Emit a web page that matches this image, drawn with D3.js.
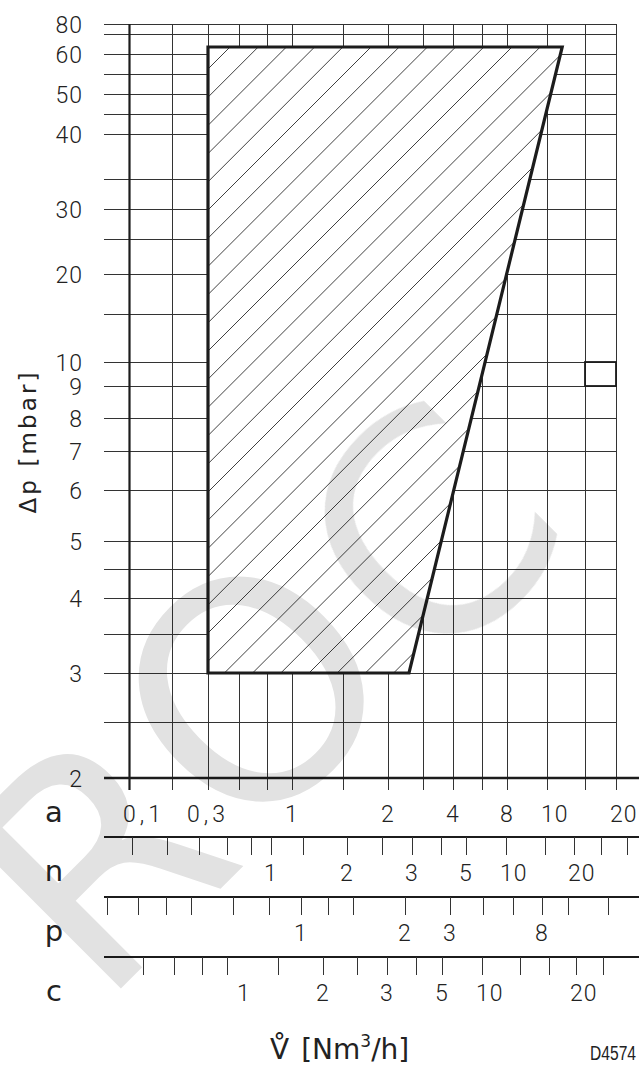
<!DOCTYPE html>
<html>
<head>
<meta charset="utf-8">
<script src="https://cdn.jsdelivr.net/npm/d3@7"></script>
<style>
  body { margin: 0; background: #fff; }
  svg { display: block; }
</style>
</head>
<body>
<div id="chart"></div>
<script>
// pressure drop grid lines [mbar] and the ones that carry a label
const dpGrid = [2, 2.5, 3, 3.5, 4, 4.5, 5, 6, 7, 8, 9, 10, 15, 20, 25, 30, 35, 40, 45, 50, 55, 60, 70, 80];
const dpLabels = [2, 3, 4, 5, 6, 7, 8, 9, 10, 20, 30, 40, 50, 60, 80];

// flow scale a (air) = vertical grid lines
const aGrid = [0.1, 0.2, 0.3, 0.5, 0.7, 1, 1.5, 2, 3, 4, 6, 8, 10, 15, 20];
const aLabels = [0.1, 0.3, 1, 2, 4, 8, 10, 20];

// flow scale n (natural gas)
const nTicks = [0.2, 0.3, 0.4, 0.5, 0.7, 1, 1.5, 2, 2.5, 3, 4, 5, 10, 15, 20, 25, 30];
const nLabels = [1, 2, 3, 5, 10, 20];

// flow scale p (propane)
const pTicks = [0.15, 0.2, 0.3, 0.4, 0.5, 0.7, 1, 1.2, 1.5, 2, 3, 4, 6, 8, 10, 15];
const pLabels = [1, 2, 3, 8];

// flow scale c (city gas)
const cTicks = [0.4, 0.5, 0.6, 0.8, 1.4, 2, 2.5, 3, 4, 5, 10, 12, 15, 20, 25];
const cLabels = [1, 2, 3, 5, 10, 20];

// working range (hatched area), air flow vs pressure drop
const rangeFlow = [0.3, 0.3, 12, 2.6];
const rangeDp = [3, 63.5, 63.5, 3];

// small marker box on the right
const boxFlow = [15, 20];
const boxDp = [9, 10];

// ---- layout: where the (irregular, hand drawn) scales sit on the sheet ----
const W = 639, H = 1066;
const dpPx = [778, 722, 673, 634, 598, 569, 541, 490, 451, 418, 386, 362, 314, 274, 239, 209, 179, 134, 114, 94, 74, 54, 34, 24];
const aPx = [129, 172, 208, 239, 267, 292, 343, 388, 423, 453, 482, 507, 547, 585, 616];
const nPx = [132, 167, 199, 227, 251, 271, 303, 347, 382, 412, 441, 466, 506, 545, 574, 601, 627];
const pPx = [107, 138, 166, 191, 233, 269, 301, 328, 353, 405, 450, 483, 513, 542, 568, 608];
const cPx = [143, 174, 202, 227, 278, 323, 357, 387, 416, 442, 482, 520, 549, 576, 603];
const gridLeft = 104;
const rowLines = { n: 837, p: 897, c: 957 };

const numFont = "Roboto, 'DejaVu Sans', sans-serif";
const ink = "#1c1c1c";
const crisp = v => Math.round(v) + 0.5;
const fmt = d => String(d).replace(".", ",");

const x = d3.scaleLinear().domain(aGrid).range(aPx);
const y = d3.scaleLinear().domain(dpGrid).range(dpPx);

const svg = d3.select("#chart").append("svg")
  .attr("width", W)
  .attr("height", H);

const gridRight = x(d3.max(aGrid));
const yTop = y(d3.max(dpGrid));
const yBase = y(d3.min(dpGrid));

// horizontal grid lines
svg.append("g")
  .selectAll("line")
  .data(dpGrid.filter(d => d !== 2))
  .join("line")
  .attr("x1", gridLeft)
  .attr("x2", gridRight)
  .attr("y1", d => crisp(y(d)))
  .attr("y2", d => crisp(y(d)))
  .attr("stroke", "#333")
  .attr("stroke-width", 1);

// vertical grid lines, running down as ticks of scale a
svg.append("g")
  .selectAll("line")
  .data(aGrid)
  .join("line")
  .attr("x1", d => crisp(x(d)))
  .attr("x2", d => crisp(x(d)))
  .attr("y1", yTop)
  .attr("y2", yBase + 12)
  .attr("stroke", d => d === 0.1 ? ink : "#333")
  .attr("stroke-width", d => d === 0.1 ? 2.2 : 1);

// base line (2 mbar) = scale a line
svg.append("line")
  .attr("x1", gridLeft).attr("x2", W)
  .attr("y1", yBase).attr("y2", yBase)
  .attr("stroke", ink)
  .attr("stroke-width", 2.4);

// marker box
svg.append("rect")
  .attr("x", x(boxFlow[0]))
  .attr("y", y(boxDp[1]))
  .attr("width", x(boxFlow[1]) - x(boxFlow[0]))
  .attr("height", y(boxDp[0]) - y(boxDp[1]))
  .attr("fill", "none")
  .attr("stroke", ink)
  .attr("stroke-width", 1.8);

// working range polygon
const pts = d3.zip(rangeFlow, rangeDp).map(([f, p]) => [x(f), y(p)]);
const areaPath = d3.line()(pts) + "Z";

svg.append("defs").append("clipPath")
  .attr("id", "rangeClip")
  .append("path")
  .attr("d", areaPath);

svg.append("path")
  .attr("d", areaPath)
  .attr("fill", "#fff");

// 45 degree hatching, clipped to the range
const hx0 = d3.min(pts, d => d[0]), hx1 = d3.max(pts, d => d[0]);
const hy0 = d3.min(pts, d => d[1]), hy1 = d3.max(pts, d => d[1]);
const step = 28.2;
svg.append("g")
  .attr("clip-path", "url(#rangeClip)")
  .selectAll("line")
  .data(d3.range(hx0 + hy0 + 22, hx1 + hy1, step))
  .join("line")
  .attr("x1", s => s - hy0 + 2).attr("y1", hy0 - 2)
  .attr("x2", s => s - hy1 - 2).attr("y2", hy1 + 2)
  .attr("stroke", "#2a2a2a")
  .attr("stroke-width", 0.9);

svg.append("path")
  .attr("d", areaPath)
  .attr("fill", "none")
  .attr("stroke", ink)
  .attr("stroke-width", 3.2)
  .attr("stroke-linejoin", "miter");

// y tick labels
svg.append("g")
  .selectAll("text")
  .data(dpLabels)
  .join("text")
  .attr("x", 83)
  .attr("y", d => y(d) + 8.5)
  .attr("text-anchor", "end")
  .style("font-family", numFont)
  .style("font-weight", 300)
  .style("font-size", "23px")
  .style("letter-spacing", "1px")
  .attr("fill", "#222")
  .text(d => d);

// y axis title
svg.append("text")
  .attr("transform", "translate(36,443) rotate(-90)")
  .attr("text-anchor", "middle")
  .attr("textLength", 141)
  .attr("lengthAdjust", "spacing")
  .style("font-family", "'DejaVu Sans', sans-serif")
  .style("font-size", "23px")
  .attr("fill", "#222")
  .text("Δp [mbar]");

// lower flow scales
function drawScale(name, lineY, ticks, px, labels, drawTicks) {
  const sc = d3.scaleLinear().domain(ticks).range(px);
  const g = svg.append("g");
  if (drawTicks) {
    g.append("line")
      .attr("x1", gridLeft).attr("x2", W)
      .attr("y1", lineY).attr("y2", lineY)
      .attr("stroke", ink)
      .attr("stroke-width", 2);
    g.selectAll(".tick")
      .data(ticks)
      .join("line")
      .attr("class", "tick")
      .attr("x1", d => crisp(sc(d))).attr("x2", d => crisp(sc(d)))
      .attr("y1", lineY).attr("y2", lineY + 18)
      .attr("stroke", "#333")
      .attr("stroke-width", 1);
  }
  const labelY = (drawTicks ? lineY : yBase) + 44;
  g.selectAll(".lab")
    .data(labels)
    .join("text")
    .attr("class", "lab")
    .attr("x", (d, i) => (i === 0 && d < 1) || d >= 10 ? sc(d) - 6 : sc(d))
    .attr("y", labelY)
    .attr("text-anchor", (d, i) => (i === 0 && d < 1) || d >= 10 ? "start" : "middle")
    .style("font-family", numFont)
    .style("font-weight", 300)
    .style("font-size", "23px")
    .style("letter-spacing", d => d < 1 ? "4px" : "1px")
    .attr("fill", "#222")
    .text(d => fmt(d));
  g.append("text")
    .attr("x", 54)
    .attr("y", labelY)
    .attr("text-anchor", "middle")
    .style("font-family", "'DejaVu Sans', sans-serif")
    .style("font-size", "29px")
    .attr("fill", "#222")
    .text(name);
}

drawScale("a", yBase, aGrid, aPx, aLabels, false);
drawScale("n", rowLines.n, nTicks, nPx, nLabels, true);
drawScale("p", rowLines.p, pTicks, pPx, pLabels, true);
drawScale("c", rowLines.c, cTicks, cPx, cLabels, true);

// x axis title
const title = svg.append("text")
  .attr("x", 270)
  .attr("y", 1059)
  .style("font-family", "'DejaVu Sans', sans-serif")
  .style("font-size", "28px")
  .attr("fill", "#222");
title.append("tspan").text("V\u030A");
title.append("tspan").attr("dx", 12).text("[Nm");
title.append("tspan").attr("dy", -12).style("font-size", "17px").text("3");
title.append("tspan").attr("dy", 12).text("/h]");

// drawing number
svg.append("text")
  .attr("x", 590)
  .attr("y", 1060)
  .attr("textLength", 46)
  .attr("lengthAdjust", "spacingAndGlyphs")
  .style("font-family", "'Liberation Sans', Arial, sans-serif")
  .style("font-size", "20px")
  .attr("fill", "#222")
  .text("D4574");

// watermark
const mark = svg.append("g")
  .style("mix-blend-mode", "multiply")
  .style("font-family", "'DejaVu Sans', sans-serif")
  .style("font-size", "305px")
  .attr("fill", "#e2e2e2");
[["R", 97, 857], ["O", 252, 690], ["C", 428, 532]].forEach(([ch, cx, cy]) => {
  mark.append("text")
    .attr("transform", `translate(${cx},${cy}) rotate(-45)`)
    .attr("text-anchor", "middle")
    .attr("dy", "0.36em")
    .text(ch);
});
</script>
</body>
</html>
